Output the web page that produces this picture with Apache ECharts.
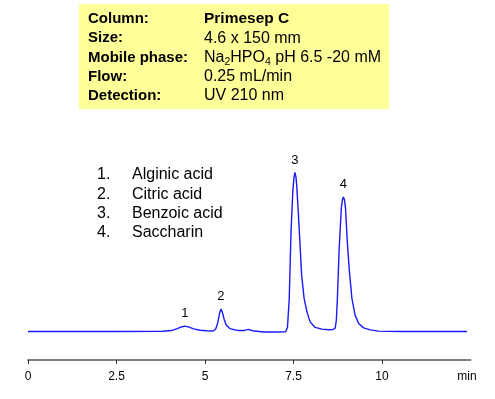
<!DOCTYPE html>
<html>
<head>
<meta charset="utf-8">
<script src="https://cdn.jsdelivr.net/npm/echarts@6/dist/echarts.min.js"></script>
<style>
html, body { margin: 0; padding: 0; background: #fff; }
#main { width: 495px; height: 399px; }
</style>
</head>
<body>
<div id="main"></div>
<script>
// retention time (min) and detector signal
var times = [0, 2.5, 3.8, 4.05, 4.2, 4.3, 4.43, 4.55, 4.68, 4.86, 5.05, 5.23, 5.3, 5.36, 5.41, 5.45, 5.49, 5.54, 5.6, 5.7,
    5.94, 6.1, 6.22, 6.35, 6.65, 7.0, 7.28, 7.33, 7.38, 7.43, 7.48, 7.51, 7.54, 7.57, 7.59, 7.64, 7.69, 7.73, 7.8, 7.88,
    7.97, 8.11, 8.3, 8.5, 8.62, 8.68, 8.71, 8.74, 8.79, 8.85, 8.88, 8.91, 8.94, 8.97, 9.02, 9.08, 9.15, 9.24, 9.34, 9.48,
    9.67, 9.9, 10.5, 12.4];
var signal = [0, 0, 0.1, 0.6, 1.8, 2.9, 3.7, 3.0, 1.8, 0.8, 0.5, 0.3, 1.5, 6, 12.5, 15.6, 13.5, 8.5, 4.5, 2.0,
    0.6, 0.6, 1.4, 0.5, -0.4, -0.4, -0.2, 3, 23, 69.7, 97.7, 107, 111.3, 108, 102.4, 81.4, 58.1, 39.4, 23.1, 13.7,
    6.7, 2.8, 1.6, 1.2, 1.3, 2.5, 8, 23, 58, 86, 92, 94.2, 92, 86, 62.7, 41.7, 23.1, 11.4, 5.6, 2.5,
    1.1, 0.2, 0, 0];

var peakNames = ['1', '2', '3', '4'];
var peakTimes = [4.43, 5.45, 7.54, 8.91];
var peakHeights = [3.7, 15.6, 111.3, 94.2];

var compounds = ['Alginic acid', 'Citric acid', 'Benzoic acid', 'Saccharin'];
var xTicks = [0, 2.5, 5, 7.5, 10];

var infoLabels = ['Column:', 'Size:', 'Mobile phase:', 'Flow:', 'Detection:'];
var infoValues = ['{b|Primesep C}', '4.6 x 150 mm', 'Na{sub|2}HPO{sub|4} pH 6.5 -20 mM', '0.25 mL/min', 'UV 210 nm'];

var font = 'Liberation Sans, Arial, sans-serif';

var points = [];
for (var i = 0; i < times.length; i++) {
    points.push([times[i], signal[i]]);
}

var marks = [];
for (var i = 0; i < peakNames.length; i++) {
    marks.push({name: peakNames[i], coord: [peakTimes[i], peakHeights[i]]});
}

var graphics = [];
graphics.push({
    type: 'rect',
    shape: {x: 79, y: 4, width: 310, height: 105},
    style: {fill: '#ffff99'}
});
for (var i = 0; i < infoLabels.length; i++) {
    var rowY = 19 + i * 19.2;
    graphics.push({
        type: 'text', x: 88, y: rowY,
        style: {text: infoLabels[i], font: 'bold 15px ' + font, fill: '#000', verticalAlign: 'middle'}
    });
    graphics.push({
        type: 'text', x: 204, y: rowY,
        style: {
            text: infoValues[i], font: '16px ' + font, fill: '#000', verticalAlign: 'middle',
            rich: {
                b: {fontSize: 15.5, fontWeight: 'bold', fontFamily: font},
                sub: {fontSize: 10.5, fontFamily: font, padding: [9, 0, 0, 0]}
            }
        }
    });
}
for (var i = 0; i < compounds.length; i++) {
    var legY = 175 + i * 19.3;
    graphics.push({
        type: 'text', x: 97, y: legY,
        style: {text: (i + 1) + '.', font: '16px ' + font, fill: '#000', verticalAlign: 'middle'}
    });
    graphics.push({
        type: 'text', x: 132, y: legY,
        style: {text: compounds[i], font: '16px ' + font, fill: '#000', verticalAlign: 'middle'}
    });
}
graphics.push({
    type: 'text', x: 467, y: 377,
    style: {text: 'min', font: '12px ' + font, fill: '#000', align: 'center', verticalAlign: 'middle'}
});

var chart = echarts.init(document.getElementById('main'));
chart.setOption({
    animation: false,
    backgroundColor: '#fff',
    textStyle: {fontFamily: font},
    grid: {left: 28, right: 24.5, top: 160, bottom: 39, containLabel: false},
    xAxis: {
        type: 'value',
        min: 0,
        max: 12.5,
        axisLine: {onZero: false, lineStyle: {color: '#808080', width: 2}},
        axisTick: {customValues: xTicks, length: 4, lineStyle: {color: '#303030', width: 1}},
        axisLabel: {customValues: xTicks, color: '#000', fontSize: 12, margin: 11},
        splitLine: {show: false}
    },
    yAxis: {
        type: 'value',
        min: -20,
        max: 120,
        show: false,
        splitLine: {show: false}
    },
    graphic: graphics,
    series: [{
        type: 'line',
        data: points,
        showSymbol: false,
        lineStyle: {color: '#1a1aff', width: 1.4},
        markPoint: {
            symbol: 'circle',
            symbolSize: 0,
            label: {show: true, position: 'top', distance: 6, color: '#000', fontSize: 13, formatter: '{b}'},
            data: marks
        }
    }]
});
</script>
</body>
</html>
